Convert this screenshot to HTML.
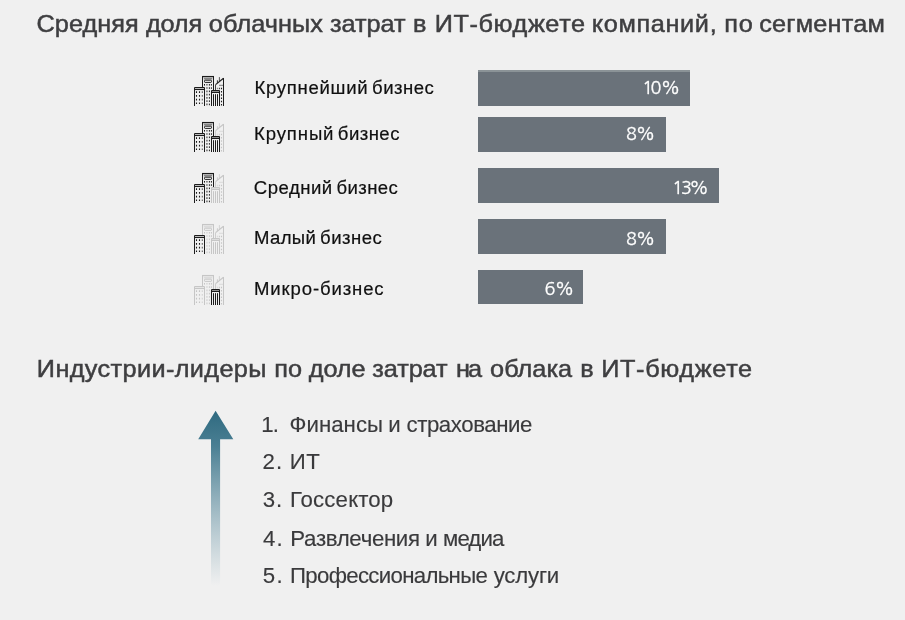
<!DOCTYPE html>
<html lang="ru">
<head>
<meta charset="utf-8">
<title>Средняя доля облачных затрат в ИТ-бюджете компаний, по сегментам</title>
<style>
  html, body { margin: 0; padding: 0; }
  body {
    width: 905px; height: 620px; overflow: hidden;
    background: #f0f0f0;
    font-family: "Liberation Sans", sans-serif;
  }
  .page { position: relative; width: 905px; height: 620px; overflow: hidden; background: #f0f0f0; }
  .page * { box-sizing: border-box; }

  /* ---------- section titles ---------- */
  h2.title {
    position: absolute; left: 0; margin: 0; white-space: nowrap;
    font-weight: 400; font-size: 24.8px; line-height: 30px;
    color: #3e3e40; -webkit-text-stroke: 0.5px #3e3e40;
    transform: scaleX(1.02); transform-origin: 0 0;
  }
  #t1 { top: 9px; }
  #t2 { top: 354px; }

  /* ---------- bar chart rows ---------- */
  ul.rows, ol.leaders { list-style: none; margin: 0; padding: 0; }
  .row { position: absolute; left: 0; width: 905px; height: 36px; }
  .row .ico { position: absolute; left: 194px; top: 5px; width: 30px; height: 30px; overflow: visible; }
  .row .lbl {
    position: absolute; left: 0; top: 0; height: 36px; line-height: 36px;
    font-size: 18px; color: #101010; white-space: nowrap;
    -webkit-text-stroke: 0.2px #101010;
    transform: scaleX(1.03); transform-origin: 0 0;
  }
  .row .bar {
    position: absolute; left: 478px; top: 0; height: 35px;
    background: #6a727a; color: #fff;
    font-family: "NanumGothic", "Liberation Sans", sans-serif;
    font-size: 18px; line-height: 36px; white-space: nowrap;
    -webkit-text-stroke: 0.3px #fff;
  }
  .row .bar b { font-weight: 400; position: absolute; left: 0; top: 0; }
  #r1 { top: 70px; }  #r1 .ico { top: 6px; }    #r1 .lbl { top: 0; }    #r1 .bar { height: 36px; box-shadow: inset 0 2px 0 #8b9397; } #r1 .bar b { top: 0; }
  #r2 { top: 117px; } #r2 .ico { top: 5px; }    #r2 .lbl { top: -1px; } #r2 .bar b { top: -1px; }
  #r3 { top: 168px; } #r3 .ico { top: 5px; }    #r3 .lbl { top: 2px; }  #r3 .bar b { top: 2px; }
  #r4 { top: 219px; } #r4 .ico { top: 4.6px; }  #r4 .lbl { top: 1px; }  #r4 .bar b { top: 2px; }
  #r5 { top: 270px; } #r5 .ico { top: 4.5px; }  #r5 .lbl { top: 1px; }  #r5 .bar { height: 34px; } #r5 .bar b { top: 1px; }

  .dark { color: #1c1c1c; }
  .lite { color: #c6c6c6; }

  /* ---------- leaders list ---------- */
  .arrow { position: absolute; left: 196px; top: 408px; width: 40px; height: 182px; }
  ol.leaders li {
    position: absolute; left: 0; white-space: nowrap;
    font-size: 21.8px; line-height: 30px; color: #3a3a3c;
    -webkit-text-stroke: 0.15px #3a3a3c;
    transform: scaleX(1.02); transform-origin: 0 0;
  }
</style>
</head>
<body>
<main class="page">
  <section class="segments">
    <h2 class="title" id="t1"><span style="letter-spacing:0.02px;margin-left:35.87px">Средняя</span> <span style="letter-spacing:-0.16px;margin-left:0.17px">доля</span> <span style="letter-spacing:0.07px;margin-left:-0.15px">облачных</span> <span style="letter-spacing:-0.04px;margin-left:-0.15px">затрат</span> <span style="margin-left:0.47px">в</span> <span style="letter-spacing:0.55px;margin-left:1.21px">ИТ-бюджете</span> <span style="letter-spacing:0.62px;margin-left:-0.90px">компаний,</span> <span style="letter-spacing:0.82px;margin-left:-0.07px">по</span> <span style="letter-spacing:0.20px;margin-left:-1.53px">сегментам</span></h2>
    <ul class="rows">
      <li class="row" id="r1">
        <svg class="ico" viewBox="0 0 30 30" aria-hidden="true">
          <g class="dark" fill="none" stroke="currentColor" stroke-width="1">
          <path d="M21.5 14V8.7" opacity=".8"/>
          <path d="M21.6 8.6L29.5 2.3" stroke-width="1.2"/>
          <path d="M29.5 2V30"/>
          <path d="M25.4 1.1V5" stroke-width=".9" opacity=".8"/>
          <path d="M23.4 4.3V6.9" stroke-width=".9"/>
          <path d="M25 9.3H29" opacity=".55"/>
          <g stroke-width="1.1" stroke-dasharray="1.6 1.65">
            <path d="M27.5 11.7V30"/>
            <path d="M25.4 11.7V13.3" opacity=".9"/>
            <path d="M23.4 11.7V13.3" opacity=".5"/>
          </g>
          </g>
          <g class="dark" fill="none" stroke="currentColor" stroke-width="1">
          <path d="M8.5 11V0.5H19.5V14"/>
          <path d="M8 0.6H20" stroke-width="1.3"/>
          <path d="M9.8 2.7H18.3" stroke-width="1.7" opacity=".5"/>
          <rect x="10.5" y="4.2" width="7" height="2.2" rx=".7"/>
          <g stroke-width="1" stroke-dasharray="1.6 1.67">
            <path d="M10.5 8V11"/>
            <path d="M12.9 8V30" stroke-width="1.7" opacity=".55"/>
            <path d="M15.4 8V30"/>
            <path d="M17.4 8V13.5"/>
          </g>
          </g>
          <g class="dark" fill="none" stroke="currentColor" stroke-width="1">
          <path d="M0.5 30V11.5H10.5V30"/>
          <path d="M1 13.4H10" stroke-width="1.3"/>
          <g stroke-width="1.1" stroke-dasharray="1.7 2">
            <path d="M2.5 15.3V29"/><path d="M5.5 15.3V29"/><path d="M8.3 15.3V29" opacity=".65"/>
          </g>
          </g>
          <g class="dark" fill="none" stroke="currentColor" stroke-width="1">
          <path d="M17.5 30V14.5H25.5V30"/>
          <path d="M18 15.5H25" opacity=".45"/>
          <path d="M18 16.5H25.5"/>
          <path d="M19.5 18.2V30M21.5 18.2V30M23.5 18.2V30"/>
          </g>
        </svg>
        <span class="lbl"><span style="letter-spacing:0.69px;margin-left:247.06px">Крупнейший</span> <span style="letter-spacing:0.45px;margin-left:-1.29px">бизнес</span></span>
        <span class="bar" style="width:212px"><b><span style="margin-left:164.31px">1</span><span style="letter-spacing:-0.55px;margin-left:-2.71px">0%</span></b></span>
      </li>
      <li class="row" id="r2">
        <svg class="ico" viewBox="0 0 30 30" aria-hidden="true">
          <g class="lite" fill="none" stroke="currentColor" stroke-width="1">
          <path d="M21.5 14V8.7" opacity=".8"/>
          <path d="M21.6 8.6L29.5 2.3" stroke-width="1.2"/>
          <path d="M29.5 2V30"/>
          <path d="M25.4 1.1V5" stroke-width=".9" opacity=".8"/>
          <path d="M23.4 4.3V6.9" stroke-width=".9"/>
          <path d="M25 9.3H29" opacity=".55"/>
          <g stroke-width="1.1" stroke-dasharray="1.6 1.65">
            <path d="M27.5 11.7V30"/>
            <path d="M25.4 11.7V13.3" opacity=".9"/>
            <path d="M23.4 11.7V13.3" opacity=".5"/>
          </g>
          </g>
          <g class="dark" fill="none" stroke="currentColor" stroke-width="1">
          <path d="M8.5 11V0.5H19.5V14"/>
          <path d="M8 0.6H20" stroke-width="1.3"/>
          <path d="M9.8 2.7H18.3" stroke-width="1.7" opacity=".5"/>
          <rect x="10.5" y="4.2" width="7" height="2.2" rx=".7"/>
          <g stroke-width="1" stroke-dasharray="1.6 1.67">
            <path d="M10.5 8V11"/>
            <path d="M12.9 8V30" stroke-width="1.7" opacity=".55"/>
            <path d="M15.4 8V30"/>
            <path d="M17.4 8V13.5"/>
          </g>
          </g>
          <g class="dark" fill="none" stroke="currentColor" stroke-width="1">
          <path d="M0.5 30V11.5H10.5V30"/>
          <path d="M1 13.4H10" stroke-width="1.3"/>
          <g stroke-width="1.1" stroke-dasharray="1.7 2">
            <path d="M2.5 15.3V29"/><path d="M5.5 15.3V29"/><path d="M8.3 15.3V29" opacity=".65"/>
          </g>
          </g>
          <g class="dark" fill="none" stroke="currentColor" stroke-width="1">
          <path d="M17.5 30V14.5H25.5V30"/>
          <path d="M18 15.5H25" opacity=".45"/>
          <path d="M18 16.5H25.5"/>
          <path d="M19.5 18.2V30M21.5 18.2V30M23.5 18.2V30"/>
          </g>
        </svg>
        <span class="lbl"><span style="letter-spacing:0.86px;margin-left:246.61px">Крупный</span> <span style="letter-spacing:0.44px;margin-left:-1.63px">бизнес</span></span>
        <span class="bar" style="width:188px"><b><span style="letter-spacing:-1.22px;margin-left:148.04px">8%</span></b></span>
      </li>
      <li class="row" id="r3">
        <svg class="ico" viewBox="0 0 30 30" aria-hidden="true">
          <g class="lite" fill="none" stroke="currentColor" stroke-width="1">
          <path d="M21.5 14V8.7" opacity=".8"/>
          <path d="M21.6 8.6L29.5 2.3" stroke-width="1.2"/>
          <path d="M29.5 2V30"/>
          <path d="M25.4 1.1V5" stroke-width=".9" opacity=".8"/>
          <path d="M23.4 4.3V6.9" stroke-width=".9"/>
          <path d="M25 9.3H29" opacity=".55"/>
          <g stroke-width="1.1" stroke-dasharray="1.6 1.65">
            <path d="M27.5 11.7V30"/>
            <path d="M25.4 11.7V13.3" opacity=".9"/>
            <path d="M23.4 11.7V13.3" opacity=".5"/>
          </g>
          </g>
          <g class="dark" fill="none" stroke="currentColor" stroke-width="1">
          <path d="M8.5 11V0.5H19.5V14"/>
          <path d="M8 0.6H20" stroke-width="1.3"/>
          <path d="M9.8 2.7H18.3" stroke-width="1.7" opacity=".5"/>
          <rect x="10.5" y="4.2" width="7" height="2.2" rx=".7"/>
          <g stroke-width="1" stroke-dasharray="1.6 1.67">
            <path d="M10.5 8V11"/>
            <path d="M12.9 8V30" stroke-width="1.7" opacity=".55"/>
            <path d="M15.4 8V30"/>
            <path d="M17.4 8V13.5"/>
          </g>
          </g>
          <g class="dark" fill="none" stroke="currentColor" stroke-width="1">
          <path d="M0.5 30V11.5H10.5V30"/>
          <path d="M1 13.4H10" stroke-width="1.3"/>
          <g stroke-width="1.1" stroke-dasharray="1.7 2">
            <path d="M2.5 15.3V29"/><path d="M5.5 15.3V29"/><path d="M8.3 15.3V29" opacity=".65"/>
          </g>
          </g>
          <g class="lite" fill="none" stroke="currentColor" stroke-width="1">
          <path d="M17.5 30V14.5H25.5V30"/>
          <path d="M18 15.5H25" opacity=".45"/>
          <path d="M18 16.5H25.5"/>
          <path d="M19.5 18.2V30M21.5 18.2V30M23.5 18.2V30"/>
          </g>
        </svg>
        <span class="lbl"><span style="letter-spacing:0.48px;margin-left:246.44px">Средний</span> <span style="letter-spacing:0.35px;margin-left:-1.20px">бизнес</span></span>
        <span class="bar" style="width:241px"><b><span style="margin-left:194.31px">1</span><span style="letter-spacing:-2.47px;margin-left:-2.33px">3%</span></b></span>
      </li>
      <li class="row" id="r4">
        <svg class="ico" viewBox="0 0 30 30" aria-hidden="true">
          <g class="lite" fill="none" stroke="currentColor" stroke-width="1">
          <path d="M21.5 14V8.7" opacity=".8"/>
          <path d="M21.6 8.6L29.5 2.3" stroke-width="1.2"/>
          <path d="M29.5 2V30"/>
          <path d="M25.4 1.1V5" stroke-width=".9" opacity=".8"/>
          <path d="M23.4 4.3V6.9" stroke-width=".9"/>
          <path d="M25 9.3H29" opacity=".55"/>
          <g stroke-width="1.1" stroke-dasharray="1.6 1.65">
            <path d="M27.5 11.7V30"/>
            <path d="M25.4 11.7V13.3" opacity=".9"/>
            <path d="M23.4 11.7V13.3" opacity=".5"/>
          </g>
          </g>
          <g class="lite" fill="none" stroke="currentColor" stroke-width="1">
          <path d="M8.5 11V0.5H19.5V14"/>
          <path d="M8 0.6H20" stroke-width="1.3"/>
          <path d="M9.8 2.7H18.3" stroke-width="1.7" opacity=".5"/>
          <rect x="10.5" y="4.2" width="7" height="2.2" rx=".7"/>
          <g stroke-width="1" stroke-dasharray="1.6 1.67">
            <path d="M10.5 8V11"/>
            <path d="M12.9 8V30" stroke-width="1.7" opacity=".55"/>
            <path d="M15.4 8V30"/>
            <path d="M17.4 8V13.5"/>
          </g>
          </g>
          <g class="dark" fill="none" stroke="currentColor" stroke-width="1">
          <path d="M0.5 30V11.5H10.5V30"/>
          <path d="M1 13.4H10" stroke-width="1.3"/>
          <g stroke-width="1.1" stroke-dasharray="1.7 2">
            <path d="M2.5 15.3V29"/><path d="M5.5 15.3V29"/><path d="M8.3 15.3V29" opacity=".65"/>
          </g>
          </g>
          <g class="lite" fill="none" stroke="currentColor" stroke-width="1">
          <path d="M17.5 30V14.5H25.5V30"/>
          <path d="M18 15.5H25" opacity=".45"/>
          <path d="M18 16.5H25.5"/>
          <path d="M19.5 18.2V30M21.5 18.2V30M23.5 18.2V30"/>
          </g>
        </svg>
        <span class="lbl"><span style="letter-spacing:0.32px;margin-left:246.61px">Малый</span> <span style="letter-spacing:0.48px;margin-left:-1.15px">бизнес</span></span>
        <span class="bar" style="width:188px"><b><span style="letter-spacing:-1.22px;margin-left:148.04px">8%</span></b></span>
      </li>
      <li class="row" id="r5">
        <svg class="ico" viewBox="0 0 30 30" aria-hidden="true">
          <g class="lite" fill="none" stroke="currentColor" stroke-width="1">
          <path d="M21.5 14V8.7" opacity=".8"/>
          <path d="M21.6 8.6L29.5 2.3" stroke-width="1.2"/>
          <path d="M29.5 2V30"/>
          <path d="M25.4 1.1V5" stroke-width=".9" opacity=".8"/>
          <path d="M23.4 4.3V6.9" stroke-width=".9"/>
          <path d="M25 9.3H29" opacity=".55"/>
          <g stroke-width="1.1" stroke-dasharray="1.6 1.65">
            <path d="M27.5 11.7V30"/>
            <path d="M25.4 11.7V13.3" opacity=".9"/>
            <path d="M23.4 11.7V13.3" opacity=".5"/>
          </g>
          </g>
          <g class="lite" fill="none" stroke="currentColor" stroke-width="1">
          <path d="M8.5 11V0.5H19.5V14"/>
          <path d="M8 0.6H20" stroke-width="1.3"/>
          <path d="M9.8 2.7H18.3" stroke-width="1.7" opacity=".5"/>
          <rect x="10.5" y="4.2" width="7" height="2.2" rx=".7"/>
          <g stroke-width="1" stroke-dasharray="1.6 1.67">
            <path d="M10.5 8V11"/>
            <path d="M12.9 8V30" stroke-width="1.7" opacity=".55"/>
            <path d="M15.4 8V30"/>
            <path d="M17.4 8V13.5"/>
          </g>
          </g>
          <g class="lite" fill="none" stroke="currentColor" stroke-width="1">
          <path d="M0.5 30V11.5H10.5V30"/>
          <path d="M1 13.4H10" stroke-width="1.3"/>
          <g stroke-width="1.1" stroke-dasharray="1.7 2">
            <path d="M2.5 15.3V29"/><path d="M5.5 15.3V29"/><path d="M8.3 15.3V29" opacity=".65"/>
          </g>
          </g>
          <g class="dark" fill="none" stroke="currentColor" stroke-width="1">
          <path d="M17.5 30V14.5H25.5V30"/>
          <path d="M18 15.5H25" opacity=".45"/>
          <path d="M18 16.5H25.5"/>
          <path d="M19.5 18.2V30M21.5 18.2V30M23.5 18.2V30"/>
          </g>
        </svg>
        <span class="lbl"><span style="letter-spacing:0.85px;margin-left:246.61px">Микро-бизнес</span></span>
        <span class="bar" style="width:105px"><b><span style="letter-spacing:-0.75px;margin-left:66.60px">6%</span></b></span>
      </li>
    </ul>
  </section>

  <section class="industries">
    <h2 class="title" id="t2"><span style="letter-spacing:0.35px;margin-left:36.14px">Индустрии-лидеры</span> <span style="letter-spacing:0.17px;margin-left:0.43px">по</span> <span style="letter-spacing:-0.07px;margin-left:-0.67px">доле</span> <span style="letter-spacing:-0.11px;margin-left:-0.24px">затрат</span> <span style="letter-spacing:-1.95px;margin-left:1.42px">на</span> <span style="letter-spacing:0.02px;margin-left:3.01px">облака</span> <span style="margin-left:0.94px">в</span> <span style="letter-spacing:0.62px;margin-left:0.57px">ИТ-бюджете</span></h2>
    <svg class="arrow" viewBox="0 0 40 182" aria-hidden="true">
      <defs>
        <linearGradient id="ag" x1="0" y1="0" x2="0" y2="1">
          <stop offset="0" stop-color="#2f6a80"/>
          <stop offset="0.2" stop-color="#4a7f93"/>
          <stop offset="1" stop-color="#6f9aab" stop-opacity="0"/>
        </linearGradient>
      </defs>
      <path d="M19.6 2.8L37.3 31.2H24.1V178H15V31.2H2.2Z" fill="url(#ag)"/>
    </svg>
    <ol class="leaders">
      <li style="top:410px"><span style="letter-spacing:-0.80px;margin-left:256.06px">1.</span> <span style="letter-spacing:0.02px;margin-left:5.17px">Финансы</span> <span style="margin-left:-0.97px">и</span> <span style="letter-spacing:-0.43px;margin-left:-0.34px">страхование</span></li>
      <li style="top:447px"><span style="letter-spacing:1.01px;margin-left:257.47px">2.</span> <span style="letter-spacing:0.45px;margin-left:0.44px">ИТ</span></li>
      <li style="top:485px"><span style="letter-spacing:0.96px;margin-left:257.52px">3.</span> <span style="letter-spacing:0.14px;margin-left:0.54px">Госсектор</span></li>
      <li style="top:524px"><span style="letter-spacing:1.13px;margin-left:257.77px">4.</span> <span style="letter-spacing:-0.33px;margin-left:0.40px">Развлечения</span> <span style="margin-left:-0.50px">и</span> <span style="letter-spacing:-0.91px;margin-left:-0.87px">медиа</span></li>
      <li style="top:561px"><span style="letter-spacing:1.21px;margin-left:257.69px">5.</span> <span style="letter-spacing:-0.68px;margin-left:-0.05px">Профессиональные</span> <span style="letter-spacing:-0.22px;margin-left:0.42px">услуги</span></li>
    </ol>
  </section>
</main>
</body>
</html>
